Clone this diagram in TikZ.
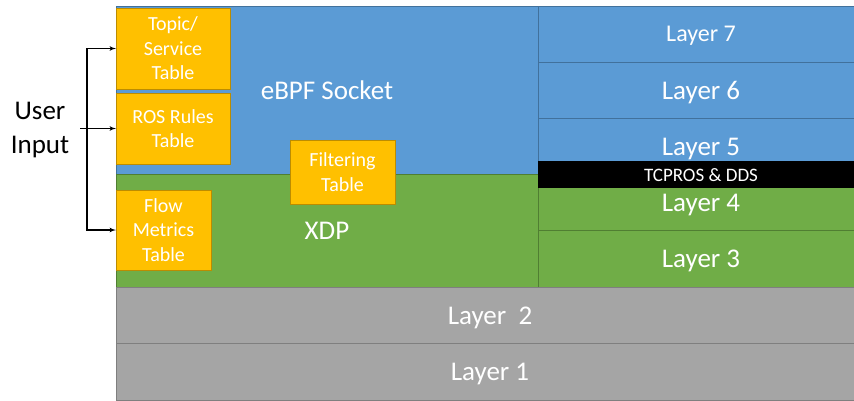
\documentclass[tikz,border=0pt]{standalone}
\usepackage{fontspec}
\setmainfont{Carlito}
\usetikzlibrary{arrows,positioning}

\definecolor{sockblue}{HTML}{5B9BD5}
\definecolor{sockedge}{HTML}{41719C}
\definecolor{xdpgreen}{HTML}{70AD47}
\definecolor{xdpedge}{HTML}{507E32}
\definecolor{phygray}{HTML}{A5A5A5}
\definecolor{phyedge}{HTML}{7F7F7F}
\definecolor{tblyellow}{HTML}{FFC000}
\definecolor{tbledge}{HTML}{BC8C00}

\begin{document}
\begin{tikzpicture}[x=1pt,y=-1pt,>=latex',font=\fontsize{27}{30}\selectfont]
	\tikzstyle{region} = [draw, rectangle, inner sep=0pt, outer sep=0pt, text=white, line width=0.8pt, text depth=0pt]
	\tikzstyle{blayer} = [region, fill=sockblue, draw=sockedge, minimum width=326pt, minimum height=56.2pt]
	\tikzstyle{glayer} = [region, fill=xdpgreen, draw=xdpedge, minimum width=326pt, minimum height=56.2pt]
	\tikzstyle{graylayer} = [region, fill=phygray, draw=phyedge, minimum width=748pt, minimum height=56.5pt]
	\tikzstyle{table} = [draw=tbledge, fill=tblyellow, rectangle, inner sep=0pt, outer sep=0pt, text=white, line width=0.8pt, align=center, font=\fontsize{20}{24.5}\selectfont]
	
	\useasboundingbox (0,0) rectangle (854,400);
	
	% left part: socket and xdp
	\node [region, fill=sockblue, draw=sockedge, anchor=north west, minimum width=422pt, minimum height=168pt] (ebpf) at (116,6) {eBPF Socket};
	\node [region, fill=xdpgreen, draw=xdpedge, minimum width=422pt, minimum height=113pt, below=0pt of ebpf] (xdp) {XDP};
	
	% right part: the layers
	\node [blayer, anchor=north west, font=\fontsize{24}{28}\selectfont] (l7) at (538,6) {Layer 7};
	\node [blayer, below=0pt of l7] (l6) {Layer 6};
	\node [blayer, below=0pt of l6] (l5) {Layer 5};
	\node [glayer, below=0pt of l5] (l4) {Layer 4};
	\node [glayer, below=0pt of l4] (l3) {Layer 3};
	\node [region, fill=black, draw=black, anchor=west, minimum width=326pt, minimum height=26pt, font=\fontsize{19}{22}\selectfont] (tcp) at (l5.south west) {TCPROS \& DDS};
	
	\node [graylayer, anchor=north west] (l2) at (xdp.south west) {Layer\ \ 2};
	\node [graylayer, below=0pt of l2] (l1) {Layer 1};
	
	% tables
	\node [table, anchor=north west, minimum width=114pt, minimum height=81pt] (topic) at (116,8) {Topic/\\Service\\Table};
	\node [table, anchor=north west, minimum width=114pt, minimum height=71pt] (rosrules) at (116,93) {ROS Rules\\Table};
	\node [table, anchor=north west, minimum width=105pt, minimum height=64pt] (filter) at (290,140) {Filtering\\Table};
	\node [table, anchor=north west, minimum width=95pt, minimum height=80pt] (flow) at (116,190) {Flow\\Metrics\\Table};
	
	% user input
	\node [align=center, font=\fontsize{27}{34}\selectfont] (user) at (40,130) {User\\Input};
	\coordinate (stub) at (80,128.5);
	\coordinate (split) at (87,128.5);
	
	\draw [->, line width=1.2pt] (stub) -- (rosrules.west);
	\draw [->, line width=1.2pt] (split) |- (topic.west);
	\draw [->, line width=1.2pt] (split) |- (flow.west);
	
\end{tikzpicture}
\end{document}
